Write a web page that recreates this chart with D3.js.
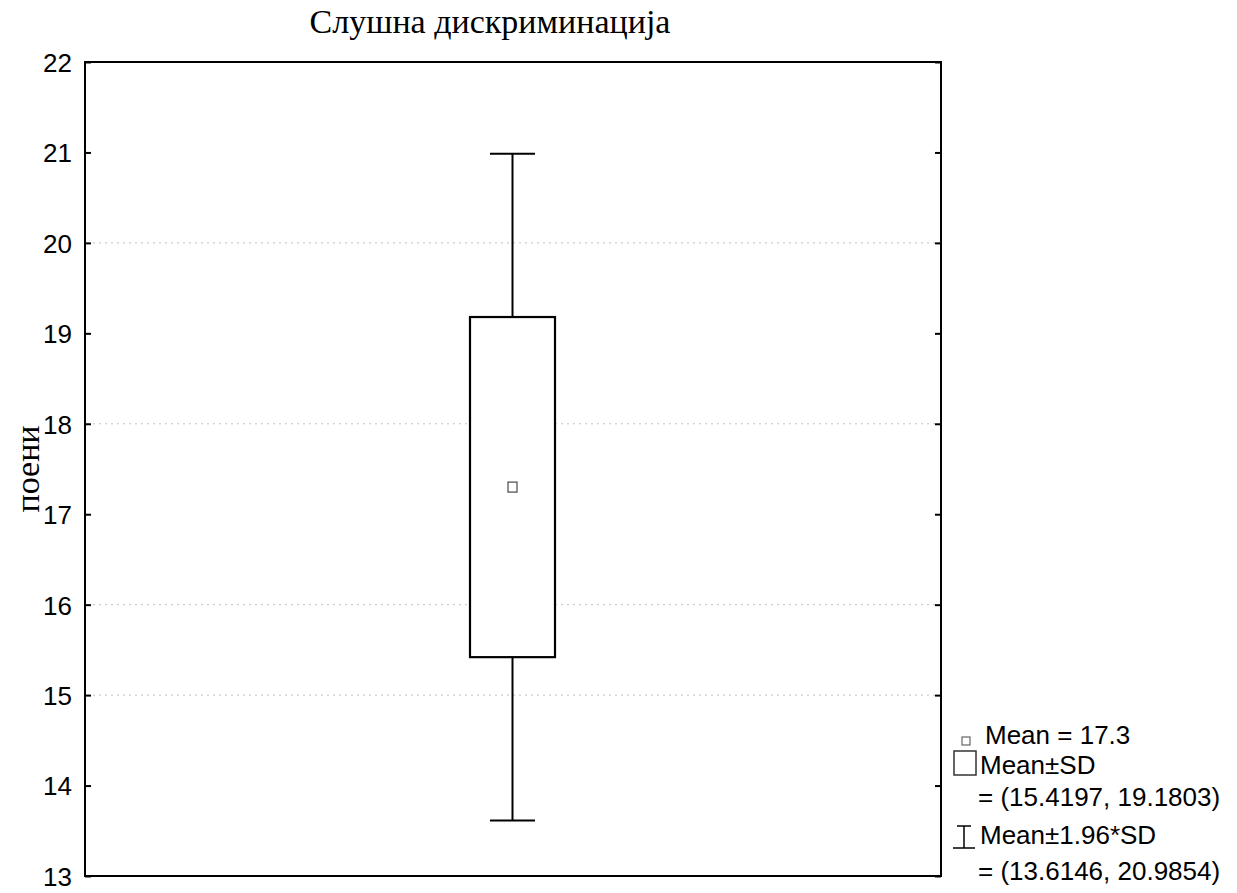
<!DOCTYPE html>
<html>
<head>
<meta charset="utf-8">
<script src="https://cdn.jsdelivr.net/npm/d3@7"></script>
<style>
  html, body { margin: 0; padding: 0; background: #fff; }
  svg { display: block; }
</style>
</head>
<body>
<svg id="chart" width="1237" height="893"></svg>
<script>
// Summary statistics for the single variable
const category = ["поени"];
const meanValue = [17.3];
const sdRange = [[15.4197, 19.1803]];
const ciRange = [[13.6146, 20.9854]];

// Axis ticks and grid
const yTicks = [13, 14, 15, 16, 17, 18, 19, 20, 21, 22];
const gridValues = [15, 16, 18, 20];

// Legend lines
const legendMean = ["Mean = 17.3"];
const legendSD = ["Mean±SD", "= (15.4197, 19.1803)"];
const legendCI = ["Mean±1.96*SD", "= (13.6146, 20.9854)"];

const svg = d3.select("#chart");
const plotL = 85, plotR = 941, plotT = 62, plotB = 876;

const y = d3.scaleLinear().domain([13, 22]).range([plotB, plotT]);
const x = d3.scaleLinear().domain([0, 4]).range([plotL, plotR]);
const xPos = i => x(2 + i);

const sans = "'Liberation Sans', Arial, sans-serif";
const serif = "'Liberation Serif', 'Times New Roman', serif";

// Dotted grid
svg.append("g").selectAll("line").data(gridValues).join("line")
  .attr("x1", plotL + 2).attr("x2", plotR - 2)
  .attr("y1", d => y(d)).attr("y2", d => y(d))
  .attr("stroke", "#c2c2c2").attr("stroke-width", 1)
  .attr("stroke-dasharray", "2,4");

// Left axis with inward ticks
const yAxisL = d3.axisLeft(y).tickValues(yTicks).tickSize(-6).tickPadding(13).tickFormat(d3.format("d"));
const gL = svg.append("g").attr("transform", `translate(${plotL},0)`).call(yAxisL);
gL.select(".domain").remove();
gL.selectAll(".tick line").attr("stroke", "#000").attr("stroke-width", 2);
gL.selectAll(".tick text").attr("font-family", sans).attr("font-size", 26).attr("fill", "#000")
  .attr("dy", "0.36em");

// Right axis with inward ticks
const yAxisR = d3.axisRight(y).tickValues(yTicks).tickSize(-6).tickFormat("");
const gR = svg.append("g").attr("transform", `translate(${plotR},0)`).call(yAxisR);
gR.select(".domain").remove();
gR.selectAll(".tick line").attr("stroke", "#000").attr("stroke-width", 2);

// Frame
svg.append("rect").attr("x", plotL).attr("y", plotT)
  .attr("width", plotR - plotL).attr("height", plotB - plotT)
  .attr("fill", "none").attr("stroke", "#000").attr("stroke-width", 2);

// Whiskers (mean ± 1.96*SD), box (mean ± SD) and mean marker
const capW = 45, boxW = 85;
const gBox = svg.append("g");
category.forEach((c, i) => {
  const cx = xPos(0) - 0.5;
  gBox.append("line").attr("x1", cx).attr("x2", cx)
    .attr("y1", y(ciRange[i][1])).attr("y2", y(sdRange[i][1]))
    .attr("stroke", "#000").attr("stroke-width", 2);
  gBox.append("line").attr("x1", cx).attr("x2", cx)
    .attr("y1", y(sdRange[i][0])).attr("y2", y(ciRange[i][0]))
    .attr("stroke", "#000").attr("stroke-width", 2);
  gBox.selectAll(null).data(ciRange[i]).join("line")
    .attr("x1", cx - capW / 2).attr("x2", cx + capW / 2)
    .attr("y1", d => y(d)).attr("y2", d => y(d))
    .attr("stroke", "#000").attr("stroke-width", 2);
  gBox.append("rect").attr("x", cx - boxW / 2).attr("y", y(sdRange[i][1]))
    .attr("width", boxW).attr("height", y(sdRange[i][0]) - y(sdRange[i][1]))
    .attr("fill", "#fff").attr("stroke", "#000").attr("stroke-width", 2.2);
  gBox.append("rect").attr("x", cx - 4.5).attr("y", y(meanValue[i]) - 5)
    .attr("width", 9).attr("height", 10)
    .attr("fill", "#fff").attr("stroke", "#555").attr("stroke-width", 1.3);
});

// Title
svg.append("text").attr("x", 490).attr("y", 33).attr("text-anchor", "middle")
  .attr("font-family", serif).attr("font-size", 34).attr("fill", "#000")
  .text("Слушна дискриминација");

// Y axis title
svg.append("text").attr("transform", `translate(39,${(plotT + plotB) / 2}) rotate(-90)`)
  .attr("text-anchor", "middle").attr("font-family", serif).attr("font-size", 34).attr("fill", "#000")
  .text(category[0]);

// Legend
const lg = svg.append("g").attr("font-family", sans).attr("font-size", 26).attr("fill", "#000");
lg.append("rect").attr("x", 962).attr("y", 737).attr("width", 8).attr("height", 8)
  .attr("fill", "#fff").attr("stroke", "#666").attr("stroke-width", 1.2);
lg.append("text").attr("x", 985).attr("y", 744).text(legendMean[0]);

lg.append("rect").attr("x", 954).attr("y", 751).attr("width", 22).attr("height", 24)
  .attr("fill", "#fff").attr("stroke", "#333").attr("stroke-width", 1.5);
lg.append("text").attr("x", 980).attr("y", 774).text(legendSD[0]);
lg.append("text").attr("x", 978).attr("y", 806).text(legendSD[1]);

const ix = 964;
lg.append("line").attr("x1", ix).attr("x2", ix).attr("y1", 826).attr("y2", 848).attr("stroke", "#000").attr("stroke-width", 1.5);
lg.append("line").attr("x1", ix - 7).attr("x2", ix + 7).attr("y1", 826).attr("y2", 826).attr("stroke", "#000").attr("stroke-width", 1.5);
lg.append("line").attr("x1", ix - 11).attr("x2", ix + 11).attr("y1", 848).attr("y2", 848).attr("stroke", "#000").attr("stroke-width", 1.5);
lg.append("text").attr("x", 980).attr("y", 844).text(legendCI[0]);
lg.append("text").attr("x", 978).attr("y", 880).text(legendCI[1]);
</script>
</body>
</html>
